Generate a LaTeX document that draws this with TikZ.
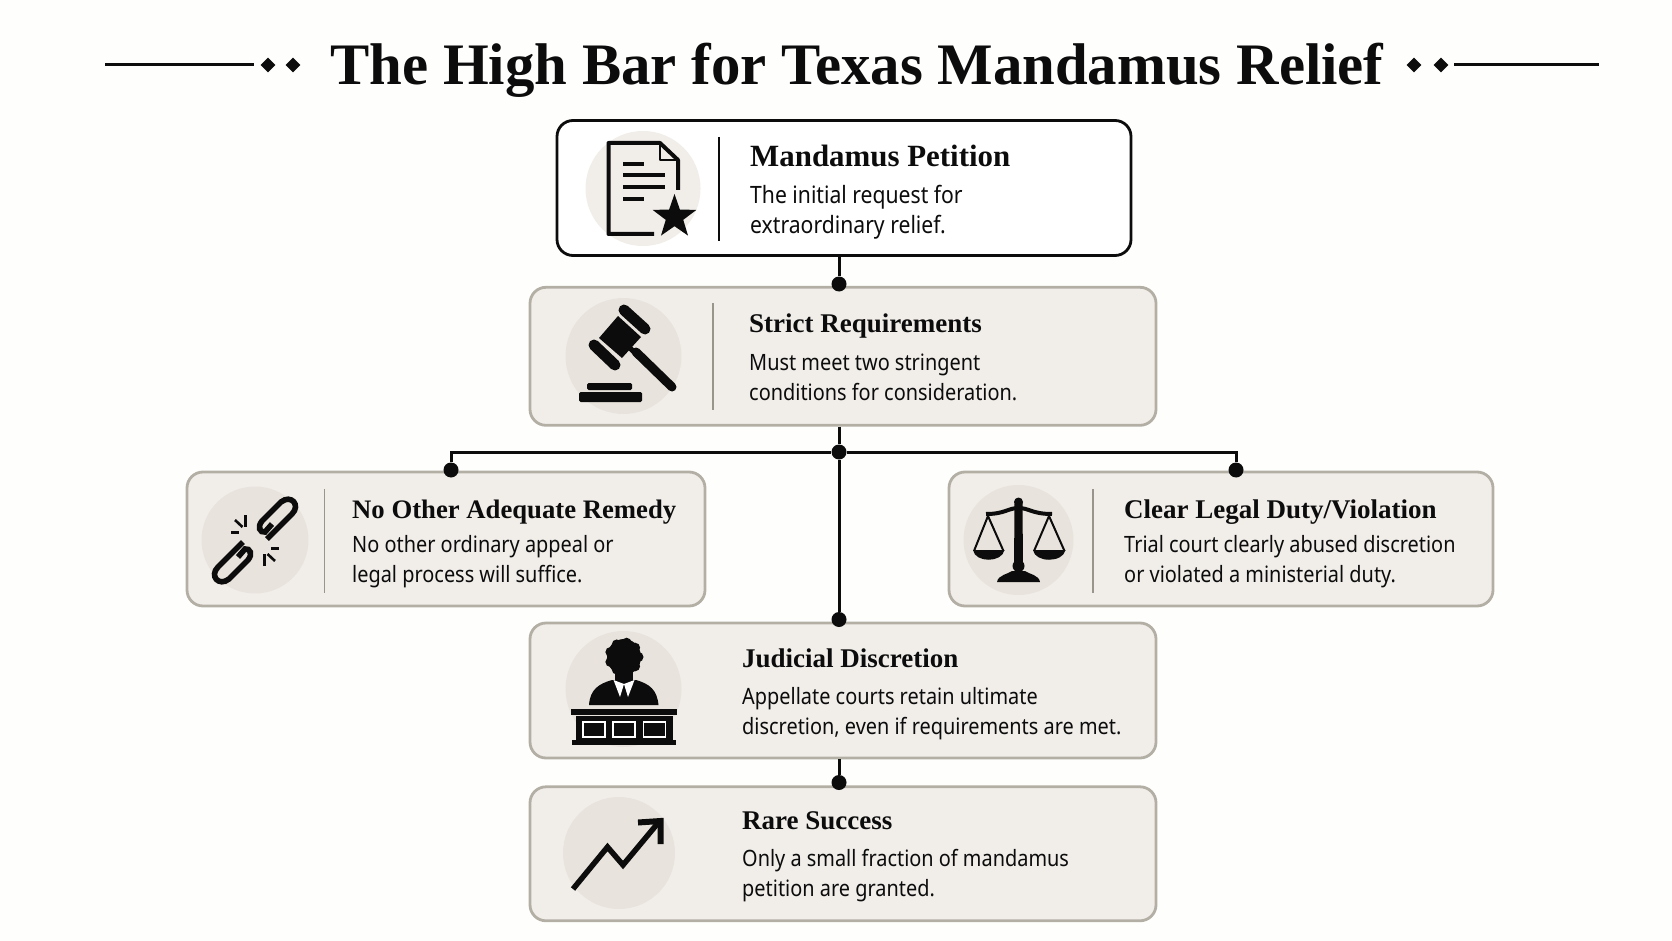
\documentclass[tikz,border=0pt]{standalone}
\usepackage{fontspec}
\setmainfont{Liberation Serif}
\newfontfamily\bodyfont[FakeStretch=0.885]{Noto Sans}
\usetikzlibrary{positioning,shapes.geometric}
\definecolor{ink}{HTML}{0C0C0C}
\definecolor{panel}{HTML}{F1EEEA}
\definecolor{edge}{HTML}{B4AFA5}
\definecolor{disc}{HTML}{E8E3DC}
\definecolor{paper}{HTML}{FEFEFD}
\tikzset{card/.style={draw=edge,fill=panel,line width=2.8pt,rounded corners=16pt,minimum width=626pt,minimum height=135pt},
         headcard/.style={card,draw=ink,fill=white,minimum width=574pt},
         disc/.style={circle,fill=disc,draw=none,minimum size=112pt,inner sep=0pt},
         head/.style={anchor=base west,inner sep=0pt,text=ink,font=\fontsize{27}{32}\selectfont\bfseries},
         body/.style={anchor=base west,inner sep=0pt,text=ink,align=left,font=\bodyfont\fontsize{22.5}{30}\selectfont},
         dot/.style={circle,fill=ink,minimum size=15pt,inner sep=0pt},
         knot/.style={diamond,fill=ink,minimum size=15pt,inner sep=0pt},
         divider/.style={draw=edge!85!black,line width=1.6pt},
         conn/.style={draw=ink,line width=3pt},
         icon/.style={draw=ink,line width=4pt},
         solid ink/.style={fill=ink,draw=none}
}
\begin{document}
\begin{tikzpicture}[x=1pt,y=-1pt]
\useasboundingbox[fill=paper] (0,0) rectangle (1672,941);

% title
\node[anchor=base,inner sep=0pt,text=ink,font=\fontsize{58.8}{62}\selectfont\bfseries] (title) at (857,84.5) {The High Bar for Texas Mandamus Relief};
\node[knot] (knotla) at (268,65) {};
\node[knot] (knotlb) at (293,65) {};
\node[knot] (knotra) at (1414,65) {};
\node[knot] (knotrb) at (1441,65) {};
\coordinate (rulel) at (105,65);
\coordinate (ruler) at (1599,65);
\draw[conn] (rulel)--(254,65);
\draw[conn] (1454,65)--(ruler);

% boxes
\node[headcard] (petition) at (844,188) {};
\node[card,below=29pt of petition,xshift=-1pt,minimum height=138pt] (strict) {};
\node[card,minimum width=518pt,minimum height=134pt] (remedy) at (446,539) {};
\node[card,minimum width=544pt,minimum height=134pt] (duty) at (1221,539) {};
\node[card] (judicial) at (843,690.5) {};
\node[card,below=26pt of judicial,minimum height=134pt] (rare) {};

% connectors
\node[dot] (dotstrict) at (839,284) {};
\node[dot] (dotfork) at (839,452) {};
\node[dot] (dotremedy) at (451,470) {};
\node[dot] (dotduty) at (1236,470) {};
\node[dot] (dotjudicial) at (839,619.5) {};
\node[dot] (dotrare) at (839,782.5) {};
\draw[conn] (dotstrict |- petition.south)--(dotstrict);
\draw[conn] (dotfork |- strict.south)--(dotfork);
\draw[conn] (dotremedy)|-(dotfork);
\draw[conn] (dotduty)|-(dotfork);
\draw[conn] (dotfork)--(dotjudicial);
\draw[conn] (dotrare |- judicial.south)--(dotrare);

% discs and dividers
\node[disc,fill=panel,minimum size=115pt] (discpetition) at (643,188.5) {};
\node[disc,minimum size=116pt] (discstrict) at (623.5,356) {};
\node[disc,minimum size=107pt] (discremedy) at (255,540) {};
\node[disc,minimum size=110pt] (discduty) at (1018.5,540) {};
\node[disc,minimum size=116pt] (discjudicial) at (623.5,689) {};
\node[disc] (discrare) at (619,853) {};
\draw[divider,draw=ink,line width=1.4pt] (719,137)--(719,241);
\draw[divider] (713,303)--(713,410);
\draw[divider] (324.5,489)--(324.5,593);
\draw[divider] (1093,489)--(1093,593);

% texts
\node[head,font=\fontsize{30.9}{36}\selectfont\bfseries] (tpetition) at (750,167) {Mandamus Petition};
\node[body,font=\bodyfont\fontsize{23.9}{30}\selectfont] (bpetition) at (750,234) {The initial request for\\extraordinary relief.};
\node[head] (tstrict) at (749,332) {Strict Requirements};
\node[body] (bstrict) at (749,400) {Must meet two stringent\\conditions for consideration.};
\node[head,font=\fontsize{26.7}{32}\selectfont\bfseries] (tremedy) at (352,518) {No Other Adequate Remedy};
\node[body] (bremedy) at (352,582) {No other ordinary appeal or\\legal process will suffice.};
\node[head] (tduty) at (1124,518) {Clear Legal Duty/Violation};
\node[body] (bduty) at (1124,582) {Trial court clearly abused discretion\\or violated a ministerial duty.};
\node[head] (tjudicial) at (742,667) {Judicial Discretion};
\node[body] (bjudicial) at (742,734) {Appellate courts retain ultimate\\discretion, even if requirements are met.};
\node[head] (trare) at (742,829.5) {Rare Success};
\node[body] (brare) at (742,896) {Only a small fraction of mandamus\\petition are granted.};

% document icon
\draw[icon,line join=round] (654,234)--(608.5,234)--(608.5,143)--(660,143)--(678,160)--(678,190);
\draw[icon,line width=2.8pt,line join=round] (660,143)--(660,160)--(678,160);
\foreach \ypos/\xend in {164/644,175.5/665,187.5/665,199.5/644}{
  \draw[icon] (623,\ypos)--(\xend,\ypos);
}
\node[star,star points=5,star point ratio=2.5,fill=ink,minimum size=46pt,inner sep=0pt] (star) at (674.5,217) {};

% gavel icon
\draw[icon,line width=11pt,line cap=round] (624,310)--(645,329);
\draw[icon,line width=11pt,line cap=round] (594,345)--(615,365);
\fill[solid ink] (618,316)--(641,337)--(622,358)--(599,338)--cycle;
\draw[icon,line width=5pt] (625,343)--(640,358);
\draw[icon,line width=9pt,line cap=round] (636,352)--(672,387);
\fill[solid ink,rounded corners=1.5pt] (587,383) rectangle (632,390);
\fill[solid ink,rounded corners=1.5pt] (579,392) rectangle (642,402);

% broken chain icon
\foreach \ang in {0,180}{
  \begin{scope}[rotate around={\ang:(255,540.5)}]
    \draw[icon,line width=5.6pt] (267,539)--(292,514) .. controls (301,505) and (291,494) .. (281,502)--(262,521) .. controls (257,527) and (260,533) .. (265,532)--(272,524);
    \draw[icon,line width=2.6pt] (245.5,515)--(245.5,527);
    \draw[icon,line width=2.6pt] (235,520)--(242.5,527);
    \draw[icon,line width=2.6pt] (231,532.5)--(239,532.5);
  \end{scope}
}

% scales icon
\fill[solid ink] (1014.5,502)--(1022.5,502)--(1023,570)--(1014,570)--cycle;
\fill[solid ink] (1018.5,502) circle (4.5pt);
\fill[solid ink] (1018.5,566) circle (6pt);
\draw[icon] (986,514) .. controls (1005,514) and (1008,508) .. (1018.5,508) .. controls (1029,508) and (1032,514) .. (1052,514);
\draw[icon,line width=2pt,line join=round] (974,551)--(988,516)--(1003.5,551);
\draw[icon,line width=2pt,line join=round] (1034,551)--(1049,516)--(1064.5,551);
\fill[solid ink] (973,550) .. controls (975,563) and (1002,563) .. (1004.5,550)--cycle;
\fill[solid ink] (1033,550) .. controls (1035,563) and (1063,563) .. (1065.5,550)--cycle;
\fill[solid ink] (997,582) .. controls (998,575) and (1008,574) .. (1012,571)--(1025,571) .. controls (1029,574) and (1039,575) .. (1040,582)--cycle;

% judge icon
\fill[solid ink] (624,657) ellipse (17pt and 18pt);
\foreach \ang in {0,40,...,320}{
  \fill[solid ink] (624,657)++(\ang:14.5pt) circle (5pt);
}
\fill[solid ink] (615,668) rectangle (633,682);
\fill[solid ink] (589,705) .. controls (590,690) and (598,684) .. (612,680)--(636,680) .. controls (650,684) and (657,690) .. (658.5,705)--cycle;
\fill[white] (613.5,680)--(620,697)--(624,684)--(628,697)--(634.5,680)--(624,684)--cycle;
\fill[solid ink] (571,709) rectangle (677,714.5);
\fill[solid ink] (576,716) rectangle (673,741);
\fill[solid ink] (571.5,740) rectangle (675.5,744.5);
\foreach \xleft in {583,613,643.5}{
  \draw[white,line width=1.6pt] (\xleft,722) rectangle ++(22,15);
}

% rising arrow icon
\draw[icon,line width=5.5pt,line join=miter] (573,889)--(607.5,847)--(623,865)--(658,823);
\draw[icon,line width=6pt,line join=miter] (638,822.5)--(660.5,821)--(660.5,844);

\end{tikzpicture}
\end{document}
